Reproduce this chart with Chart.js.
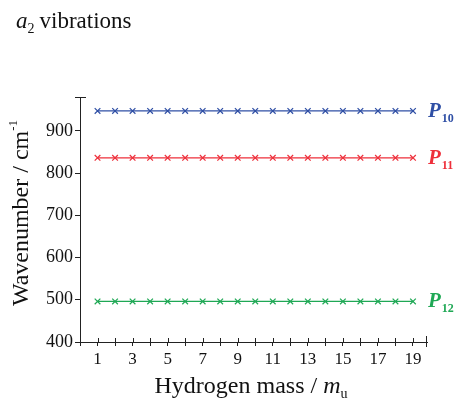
<!DOCTYPE html>
<html>
<head>
<meta charset="utf-8">
<script src="https://cdn.jsdelivr.net/npm/chart.js@4.4.1/dist/chart.umd.min.js"></script>
<style>
  html, body { margin: 0; padding: 0; background: #fff; }
  #wrap { width: 462px; height: 416px; }
</style>
</head>
<body>
<div id="wrap"><canvas id="chart" width="462" height="416"></canvas></div>
<script>
const masses = [1, 2, 3, 4, 5, 6, 7, 8, 9, 10, 11, 12, 13, 14, 15, 16, 17, 18, 19];
const p10 = [947, 947, 947, 947, 947, 947, 947, 947, 947, 947, 947, 947, 947, 947, 947, 947, 947, 947, 947];
const p11 = [836, 836, 836, 836, 836, 836, 836, 836, 836, 836, 836, 836, 836, 836, 836, 836, 836, 836, 836];
const p12 = [496, 496, 496, 496, 496, 496, 496, 496, 496, 496, 496, 496, 496, 496, 496, 496, 496, 496, 496];
const seriesNames = ["10", "11", "12"];
const seriesColors = ["#2f4fa5", "#ee2f3a", "#1fa855"];
const xLabels = [1, 3, 5, 7, 9, 11, 13, 15, 17, 19];
const yLabels = [400, 500, 600, 700, 800, 900];

const serif = "'Liberation Serif', 'DejaVu Serif', serif";
const axisColor = "#222";

function toPoints(vals) {
  return masses.map((m, i) => ({ x: m, y: vals[i] }));
}

function makeSet(vals, i) {
  return {
    label: "P" + seriesNames[i],
    data: toPoints(vals),
    showLine: true,
    borderColor: seriesColors[i],
    backgroundColor: seriesColors[i],
    borderWidth: 1.3,
    pointStyle: "crossRot",
    pointRadius: 4,
    pointBorderWidth: 1.2,
    pointBorderColor: seriesColors[i]
  };
}

// extra drawing: crossing tick marks, end caps, titles and series labels
const decor = {
  id: "decor",
  afterDraw(chart) {
    const ctx = chart.ctx;
    const xs = chart.scales.x;
    const ys = chart.scales.y;
    const area = chart.chartArea;
    ctx.save();
    ctx.strokeStyle = axisColor;
    ctx.lineWidth = 1;

    ctx.beginPath();
    // upward halves of the x ticks
    xs.ticks.forEach(t => {
      if (t.value <= 0) return;
      const px = Math.round(xs.getPixelForValue(t.value)) + 0.5;
      ctx.moveTo(px, area.bottom);
      ctx.lineTo(px, area.bottom - 4);
    });
    // cap at the right end of the x axis
    const rx = Math.round(area.right) - 0.5;
    ctx.moveTo(rx, area.bottom - 6);
    ctx.lineTo(rx, area.bottom + 5);
    // cap at the top of the y axis
    const ty = Math.round(area.top) + 0.5;
    ctx.moveTo(area.left - 5, ty);
    ctx.lineTo(area.left + 6, ty);
    ctx.stroke();

    ctx.fillStyle = "#111";
    ctx.textBaseline = "alphabetic";

    // top-left title: a2 vibrations
    let x = 16;
    ctx.font = "italic 23px " + serif;
    ctx.fillText("a", x, 28);
    x += ctx.measureText("a").width;
    ctx.font = "14px " + serif;
    ctx.fillText("2", x, 33);
    x += ctx.measureText("2").width + 5;
    ctx.font = "23px " + serif;
    ctx.fillText("vibrations", x, 28);

    // x axis title
    ctx.font = "24px " + serif;
    const xt1 = "Hydrogen mass / ";
    const w1 = ctx.measureText(xt1).width;
    ctx.font = "italic 24px " + serif;
    const w2 = ctx.measureText("m").width;
    ctx.font = "14px " + serif;
    const w3 = ctx.measureText("u").width;
    let sx = 251 - (w1 + w2 + w3) / 2;
    ctx.font = "24px " + serif;
    ctx.fillText(xt1, sx, 393);
    sx += w1;
    ctx.font = "italic 24px " + serif;
    ctx.fillText("m", sx, 393);
    sx += w2;
    ctx.font = "14px " + serif;
    ctx.fillText("u", sx, 398);

    // y axis title, rotated
    ctx.save();
    ctx.translate(28, 213);
    ctx.rotate(-Math.PI / 2);
    ctx.font = "24px " + serif;
    const yt = "Wavenumber / cm";
    const yw = ctx.measureText(yt).width;
    ctx.font = "13px " + serif;
    const sw = ctx.measureText("-1").width;
    const y0 = -(yw + sw) / 2;
    ctx.font = "24px " + serif;
    ctx.fillText(yt, y0, 0);
    ctx.font = "13px " + serif;
    ctx.fillText("-1", y0 + yw, -11);
    ctx.restore();

    // series labels at right end
    chart.data.datasets.forEach((ds, i) => {
      const last = ds.data[ds.data.length - 1];
      const py = ys.getPixelForValue(last.y);
      ctx.fillStyle = seriesColors[i];
      ctx.font = "italic bold 21px " + serif;
      ctx.fillText("P", 428, py + 6);
      const pw = ctx.measureText("P").width;
      ctx.font = "bold 12px " + serif;
      ctx.fillText(seriesNames[i], 428 + pw + 1, py + 11);
    });

    ctx.restore();
  }
};

new Chart(document.getElementById("chart"), {
  type: "scatter",
  data: {
    datasets: [makeSet(p10, 0), makeSet(p11, 1), makeSet(p12, 2)]
  },
  options: {
    responsive: false,
    animation: false,
    layout: { padding: { left: 0, right: 35, top: 97, bottom: 0 } },
    plugins: {
      legend: { display: false },
      tooltip: { enabled: false }
    },
    scales: {
      x: {
        type: "linear",
        min: 0,
        max: 19.8,
        afterFit: s => { s.height = 416 - 342; },
        border: { display: true, color: axisColor, width: 1 },
        grid: { drawOnChartArea: false, drawTicks: true, tickLength: 4, color: axisColor },
        ticks: {
          stepSize: 1,
          includeBounds: false,
          autoSkip: false,
          maxRotation: 0,
          padding: 3,
          color: "#111",
          font: { family: serif, size: 17 },
          callback: v => (xLabels.includes(v) ? String(v) : "")
        }
      },
      y: {
        type: "linear",
        min: 400,
        max: 980,
        afterFit: s => { s.width = 80; },
        border: { display: true, color: axisColor, width: 1 },
        grid: { drawOnChartArea: false, drawTicks: true, tickLength: 5, color: axisColor },
        ticks: {
          stepSize: 100,
          includeBounds: false,
          autoSkip: false,
          padding: 2,
          color: "#111",
          font: { family: serif, size: 18 },
          callback: v => (yLabels.includes(v) ? String(v) : "")
        }
      }
    }
  },
  plugins: [decor]
});
</script>
</body>
</html>
